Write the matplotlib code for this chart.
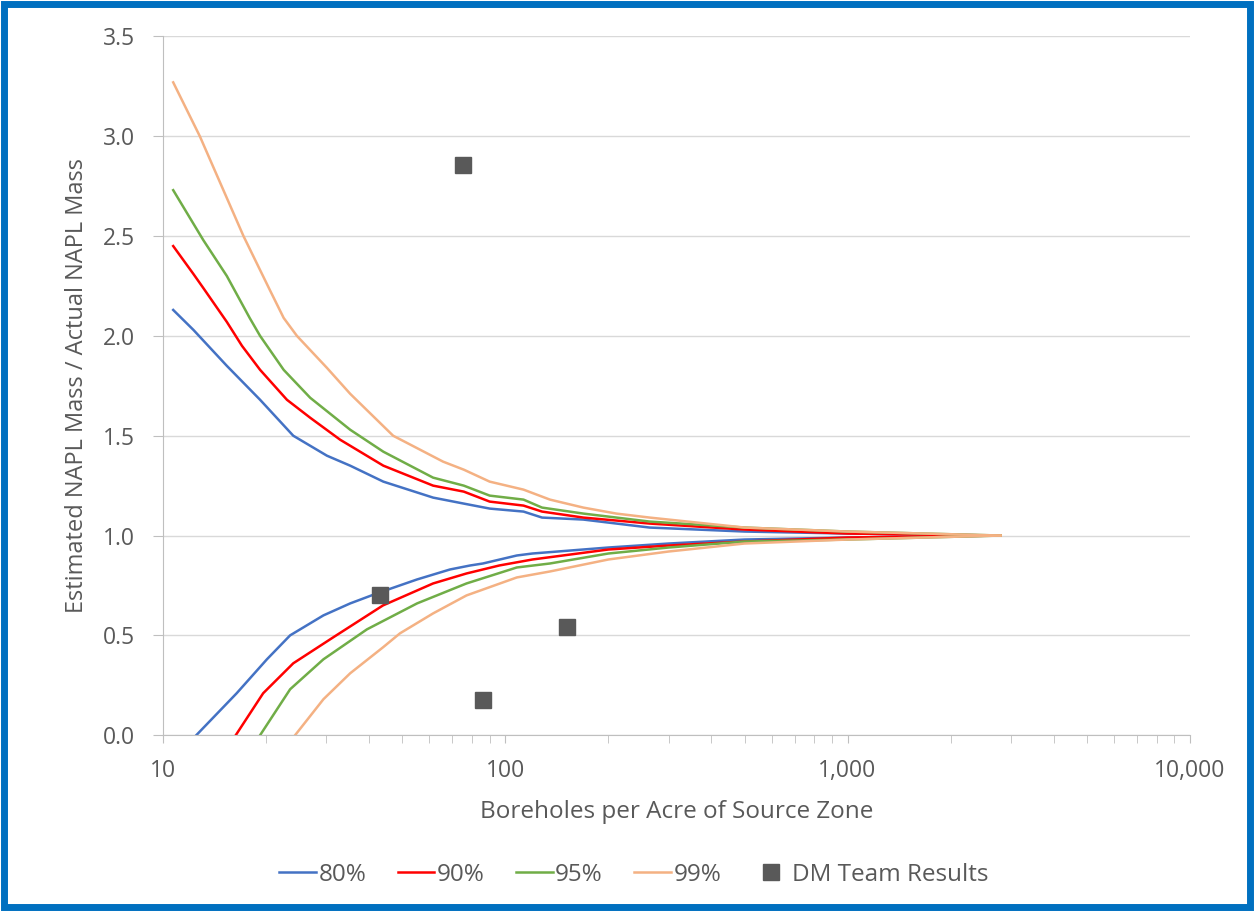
import matplotlib.pyplot as plt
from matplotlib.patches import Rectangle
from matplotlib.ticker import FixedLocator, FuncFormatter, LogLocator, NullFormatter

plt.rcParams['font.family'] = ['Open Sans', 'DejaVu Sans']

# upper branch of each confidence envelope (over-estimate)
up_80_x = [10.7, 12.26, 15.35, 19.2, 24.0, 30.1, 35.2, 44, 61.5, 75.6, 90, 113, 128, 169, 264, 500, 1000, 2800]
up_80 = [2.13, 2.03, 1.85, 1.68, 1.50, 1.40, 1.35, 1.27, 1.19, 1.16, 1.135, 1.12, 1.09, 1.08, 1.04, 1.02, 1.01, 1.00]
up_90_x = [10.7, 12.26, 13.1, 15.35, 17.0, 19.2, 23.0, 26.9, 32.9, 44, 61.5, 75.6, 90, 113, 128, 169, 264, 500, 1000, 2800]
up_90 = [2.45, 2.31, 2.24, 2.07, 1.95, 1.83, 1.68, 1.59, 1.48, 1.35, 1.25, 1.22, 1.17, 1.15, 1.12, 1.09, 1.06, 1.03, 1.01, 1.00]
up_95_x = [10.7, 13.1, 15.35, 17.9, 19.2, 22.5, 26.9, 35.2, 44, 61.5, 75.6, 90, 113, 128, 169, 264, 500, 1000, 2800]
up_95 = [2.73, 2.48, 2.30, 2.09, 2.00, 1.83, 1.69, 1.53, 1.42, 1.29, 1.25, 1.20, 1.18, 1.14, 1.11, 1.07, 1.04, 1.02, 1.00]
up_99_x = [10.7, 12.8, 17.17, 20.5, 22.5, 24.6, 30.1, 35.2, 47, 65.8, 75.6, 90, 113, 135, 169, 211, 264, 500, 1000, 2800]
up_99 = [3.27, 3.00, 2.50, 2.23, 2.09, 2.00, 1.84, 1.71, 1.50, 1.37, 1.33, 1.27, 1.23, 1.18, 1.14, 1.11, 1.09, 1.04, 1.02, 1.00]

# lower branch (under-estimate)
lo_80_x = [12.5, 16.4, 20.1, 23.5, 29.4, 35.2, 42.1, 55.2, 68.9, 78.9, 86, 108, 120, 200, 300, 500, 1000, 2800]
lo_80 = [0.0, 0.21, 0.38, 0.50, 0.60, 0.66, 0.71, 0.78, 0.83, 0.85, 0.86, 0.90, 0.91, 0.94, 0.96, 0.98, 0.99, 1.00]
lo_90_x = [16.3, 19.6, 24.0, 31.4, 43.9, 61.5, 77, 96, 120, 200, 300, 500, 1000, 2800]
lo_90 = [0.0, 0.21, 0.36, 0.49, 0.65, 0.76, 0.81, 0.85, 0.88, 0.93, 0.95, 0.97, 0.99, 1.00]
lo_95_x = [19.2, 23.5, 29.4, 39.4, 55.2, 77, 108, 135, 200, 300, 500, 1000, 2800]
lo_95 = [0.0, 0.23, 0.38, 0.53, 0.66, 0.76, 0.84, 0.86, 0.91, 0.94, 0.97, 0.98, 1.00]
lo_99_x = [24.3, 29.4, 35.2, 43.9, 49.2, 61.5, 77, 108, 135, 200, 300, 500, 1000, 2800]
lo_99 = [0.0, 0.18, 0.31, 0.44, 0.51, 0.61, 0.70, 0.79, 0.82, 0.88, 0.92, 0.96, 0.98, 1.00]

# team results
dm_x = [43, 75.4, 86, 151]
dm_y = [0.70, 2.855, 0.175, 0.54]

labels = ['80%', '90%', '95%', '99%']
colors = ['#4472C4', '#FF0000', '#70AD47', '#F4B183']
text_col = '#595959'

fig = plt.figure(figsize=(12.55, 9.11), dpi=100)
fig.patches.append(Rectangle((0.003, 0.004), 0.993, 0.992, transform=fig.transFigure,
                             fill=False, edgecolor='#0070C0', linewidth=5))
ax = fig.add_axes([0.130, 0.193, 0.818, 0.767])

uppers = [(up_80_x, up_80), (up_90_x, up_90), (up_95_x, up_95), (up_99_x, up_99)]
lowers = [(lo_80_x, lo_80), (lo_90_x, lo_90), (lo_95_x, lo_95), (lo_99_x, lo_99)]
for lab, c, (ux, uy), (lx, ly) in zip(labels, colors, uppers, lowers):
    ax.plot(ux, uy, color=c, lw=1.8, label=lab)
    ax.plot(lx, ly, color=c, lw=1.8)

ax.plot(dm_x, dm_y, ls='none', marker='s', ms=11, color='#595959', label='DM Team Results')

ax.set_xscale('log')
ax.set_xlim(10, 10000)
ax.set_ylim(0, 3.5)
ax.yaxis.set_major_locator(FixedLocator([0, 0.5, 1, 1.5, 2, 2.5, 3, 3.5]))
ax.yaxis.set_major_formatter(FuncFormatter(lambda v, p: f'{v:.1f}'))
ax.xaxis.set_major_locator(LogLocator(base=10))
ax.xaxis.set_minor_locator(LogLocator(base=10, subs=range(2, 10)))
ax.xaxis.set_minor_formatter(NullFormatter())
ax.xaxis.set_major_formatter(FuncFormatter(lambda v, p: f'{v:,.0f}'))

ax.grid(axis='y', color='#D9D9D9', lw=1)
ax.set_axisbelow(True)
for s in ['top', 'right']:
    ax.spines[s].set_visible(False)
for s in ['left', 'bottom']:
    ax.spines[s].set_color('#BFBFBF')
ax.tick_params(axis='both', which='both', color='#BFBFBF', length=5.5, labelsize=16.5,
               labelcolor=text_col)
ax.tick_params(axis='x', pad=12)
ax.tick_params(axis='y', pad=13, length=7)

ax.set_xlabel('Boreholes per Acre of Source Zone', fontsize=17.5, color=text_col, labelpad=12)
ax.set_ylabel('Estimated NAPL Mass / Actual NAPL Mass', fontsize=17, color=text_col, labelpad=10)

fig.legend(loc='center', bbox_to_anchor=(0.505, 0.04), ncol=5, frameon=False, fontsize=17.5,
           handlelength=1.5, handletextpad=0.1, columnspacing=1.3, labelcolor=text_col)

fig.savefig('out.png', dpi=100)
